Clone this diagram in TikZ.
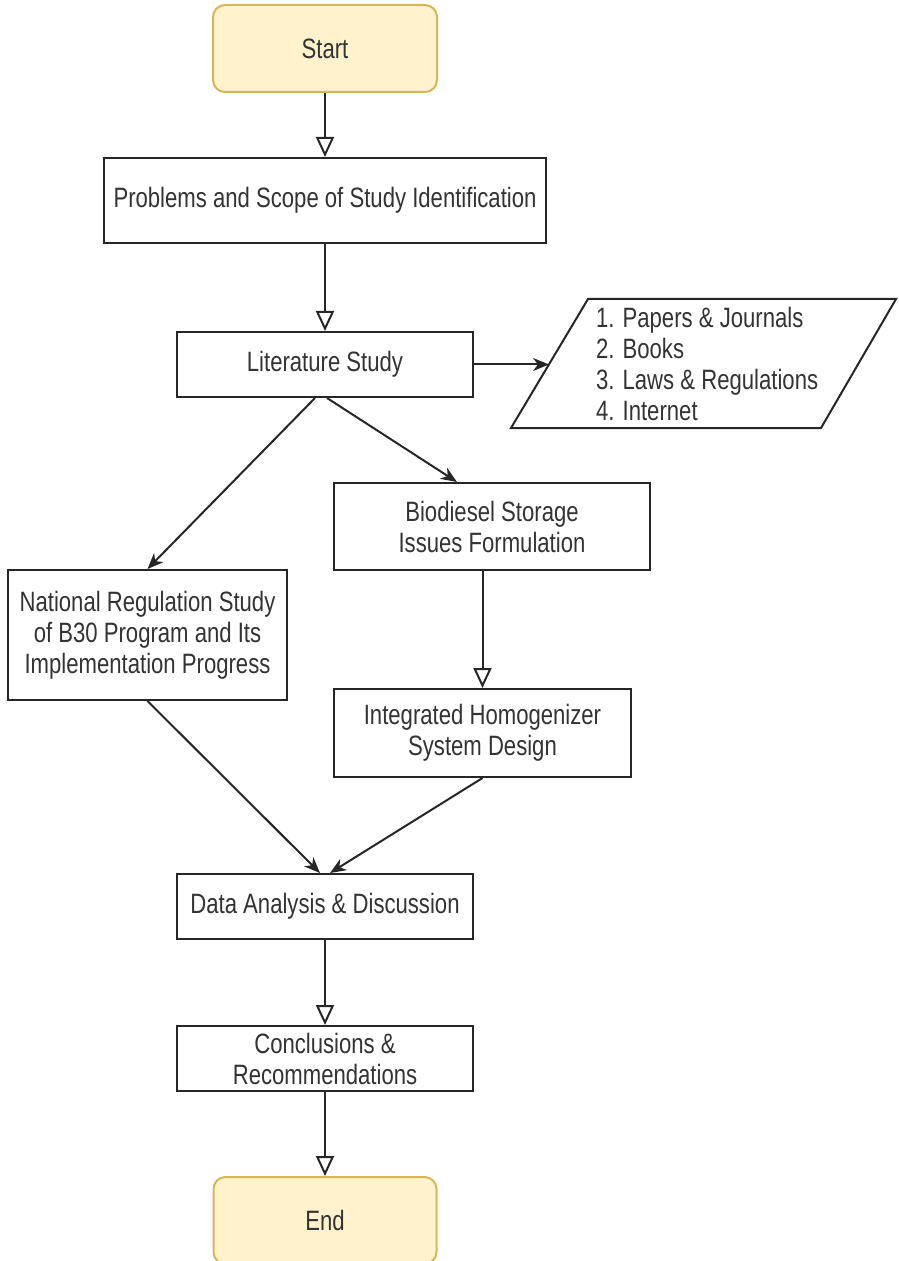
\documentclass[tikz,border=0pt]{standalone}
\usepackage{fontspec}
\setmainfont{Liberation Sans}[FakeStretch=0.79]
\usetikzlibrary{arrows.meta}
\definecolor{termfill}{HTML}{FFF2CC}
\definecolor{termline}{HTML}{D6B656}

\begin{document}
\begin{tikzpicture}[x=0.5pt,y=-0.5pt,line width=1pt,
    box/.style={draw=black!85,fill=white,inner sep=0pt,align=center,text=black!80,
        font=\fontsize{14pt}{15.5pt}\selectfont},
    term/.style={box,draw=termline,fill=termfill,rounded corners=6pt},
    flow/.style={draw=black!85,-{Triangle[open,length=10pt,width=9pt]}},
    link/.style={draw=black!85,-{Stealth[length=8pt,width=6.5pt,inset=2.5pt]}}]
    \useasboundingbox (0,0) rectangle (898,1261);

    % start and end
    \node[term,minimum width=112pt,minimum height=43.5pt] (start) at (325,48.5) {Start};
    \node[term,minimum width=111.5pt,minimum height=43.5pt] (stop) at (325,1220.5) {End};

    % main column
    \node[box,minimum width=221pt,minimum height=42.5pt] (problem) at (325,200.5)
        {Problems and Scope of Study Identification};
    \node[box,minimum width=148pt,minimum height=32.5pt] (litstudy) at (325,364.5) {Literature Study};
    \node[box,minimum width=148pt,minimum height=32.5pt] (analysis) at (325,906.5)
        {Data Analysis \& Discussion};
    \node[box,minimum width=148pt,minimum height=32.5pt] (concl) at (325,1058.5)
        {Conclusions \&\\Recommendations};

    % the two branches
    \node[box,minimum width=139.5pt,minimum height=65pt] (natreg) at (147.5,635)
        {National Regulation Study\\of B30 Program and Its\\Implementation Progress};
    \node[box,minimum width=158pt,minimum height=43.5pt] (biostore) at (492,526.5)
        {Biodiesel Storage\\Issues Formulation};
    \node[box,minimum width=148.5pt,minimum height=44pt] (homog) at (482.5,733)
        {Integrated Homogenizer\\System Design};

    % sources (parallelogram)
    \draw[black!85] (588,299) -- (896,299) -- (821,428) -- (511,428) -- cycle;
    \node[box,draw=none,fill=none,anchor=west,align=left] (sources) at (595,364)
        {1. Papers \& Journals\\2. Books\\3. Laws \& Regulations\\4. Internet};
    \coordinate (srcin) at (549,364.5);

    % connectors
    \draw[flow] (start) -- (problem);
    \draw[flow] (problem) -- (litstudy);
    \draw[link] (litstudy.east) -- (srcin);
    \draw[link] ([xshift=-5pt]litstudy.south) -- (natreg.north);
    \draw[link] ([xshift=1pt]litstudy.south) -- ([xshift=-17.5pt]biostore.north);
    \draw[flow] (biostore.south -| homog.north) -- (homog.north);
    \draw[link] (natreg.south) -- ([xshift=-2.5pt]analysis.north);
    \draw[link] (homog.south) -- ([xshift=2.5pt]analysis.north);
    \draw[flow] (analysis) -- (concl);
    \draw[flow] (concl) -- (stop);
\end{tikzpicture}
\end{document}
